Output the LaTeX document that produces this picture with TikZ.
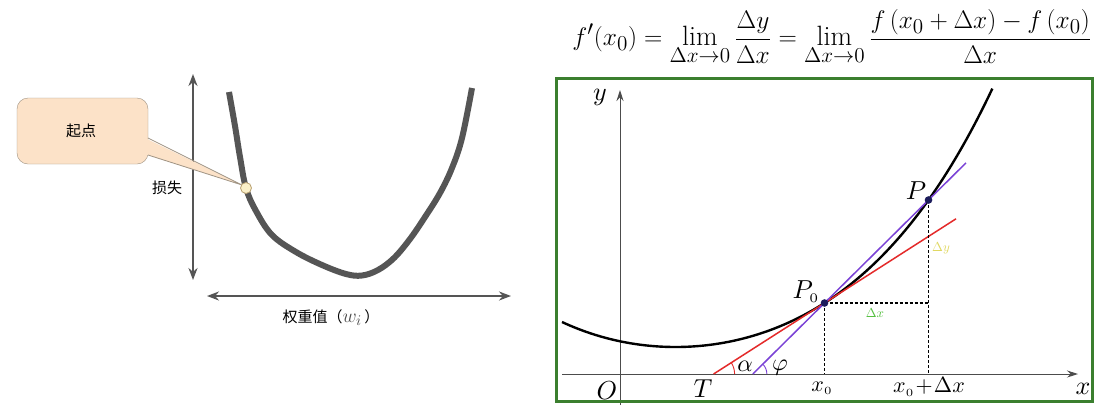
\documentclass[tikz,border=0pt]{standalone}
\usepackage{graphicx}
\usepackage{fontspec}
\newfontfamily\cjk{Noto Sans CJK SC}
\usetikzlibrary{arrows.meta,calc}
\definecolor{lossgray}{HTML}{555555}
\definecolor{peach}{HTML}{FCE2C8}
\definecolor{peachline}{HTML}{A09484}
\definecolor{dotfill}{HTML}{FBF0C8}
\definecolor{dotline}{HTML}{B8A070}
\definecolor{framegreen}{HTML}{3B7F2F}
\definecolor{tanred}{HTML}{E42A2A}
\definecolor{secpurple}{HTML}{7A42D6}
\definecolor{pointnavy}{HTML}{1C1C5C}
\definecolor{dxgreen}{HTML}{55C040}
\definecolor{dyyellow}{HTML}{E0D860}
\tikzset{
  dblarrow/.style={lossgray, line width=2pt, {Stealth[length=12pt,width=9pt]}-{Stealth[length=12pt,width=9pt]}},
  cjklabel/.style={font=\cjk\fontsize{15}{17}\selectfont, text=black, inner sep=0pt},
  axisline/.style={draw=black!70, line width=1pt, -{Stealth[length=11pt,width=7pt]}},
  graphlabel/.style={inner sep=0pt, scale=2.6},
  greeklabel/.style={inner sep=0pt, scale=2.4},
  ticklabel/.style={inner sep=0pt, scale=2.2},
  smalldelta/.style={inner sep=0pt, scale=1.3},
  guide/.style={black, line width=1.3pt, dash pattern=on 3pt off 2pt},
  ptdot/.style={fill=pointnavy, draw=none}
}
\begin{document}
\begin{tikzpicture}[x=1pt,y=-1pt]
\useasboundingbox (0,0) rectangle (1094,405);
\fill[white] (0,0) rectangle (1094,405);

% ---------- left panel ----------
\draw[dblarrow] (193,74) -- (193,280);
\draw[dblarrow] (207,296) -- (511,296);
\draw[lossgray, line width=6pt] plot[smooth, tension=0.6] coordinates {
  (229,92) (235,126) (240,157) (246,188) (256,211) (272,235) (296,252) (322,265) (346,274) (362,275.5) (378,270) (394,258) (410,239) (425,217) (440,193) (452,168) (462,138) (472,88)};

\node[draw=peachline, fill=peach, rounded corners=11pt, minimum width=131pt, minimum height=66pt, inner sep=0pt] (callout) at (82.5,131) {};
\fill[peach] (146,138.5) -- (242,185) -- (146,154.5) -- cycle;
\draw[peachline, line width=0.8pt] (148,138) -- (242,185) -- (148,155);
\node[cjklabel] (start) at (81,131) {起点};
\filldraw[fill=dotfill, draw=dotline, line width=0.8pt] (246,188) circle (5.5pt);
\node[cjklabel] (loss) at (167,188) {损失};
\node[cjklabel] (weight) at (331,318) {权重值（\textcolor{black!70}{\scalebox{1.35}{$w_i$}}\,）};

% ---------- formula ----------
\node[inner sep=0pt, scale=1.47] (formula) at (832,37) {\fontsize{19}{23}\selectfont$\displaystyle f'(x_0)=\lim_{\Delta x\to 0}\frac{\Delta y}{\Delta x}=\lim_{\Delta x\to 0}\frac{f\,(x_0+\Delta x)-f\,(x_0)}{\Delta x}$};

% ---------- right panel ----------
\coordinate (O) at (620,374);
\coordinate (xend) at (1078,374);
\coordinate (xstart) at (562,374);
\coordinate (ystart) at (620,405);
\coordinate (yend) at (620,90);
\draw[axisline] (xstart) -- (xend);
\draw[axisline] (ystart) -- (yend);

\coordinate (P0) at (824.5,303);
\coordinate (P) at (928.5,200);
\coordinate (T) at (713.6,374);
\coordinate (S) at ($(P0)!-0.689!(P)$);

% curve: drop = 18.263 v^2 - 0.1218 v^3 + 0.783 v^4, v=(x-675.5)/100
\draw[black, line width=2.4pt] plot[domain=-1.135:3.17, samples=120, smooth]
  ({675.5+100*\x}, {347-(18.263*\x*\x - 0.1218*\x*\x*\x + 0.783*\x*\x*\x*\x)});

\draw[tanred, line width=1.5pt] (T) -- ($(T)!2.186!(P0)$);
\draw[secpurple, line width=1.5pt] (S) -- ($(P0)!1.36!(P)$);

\draw[guide] (P0) -- (P0 |- O);
\draw[guide] (P) -- (P |- O);
\draw[guide] (P0) -- (P |- P0);

\draw[tanred, line width=0.9pt] ($(T)+(21,0)$) arc[start angle=0, end angle=-32.6, radius=21];
\draw[secpurple, line width=0.9pt] ($(S)+(14,0)$) arc[start angle=0, end angle=-44.7, radius=14];

\fill[ptdot] (P0) circle (3.8pt);
\fill[ptdot] (P) circle (3.8pt);

\node[graphlabel] (ylab) at (600,97) {$y$};
\node[graphlabel] (xlab) at (1083,389) {$x$};
\node[graphlabel] (Olab) at (607,391) {$O$};
\node[graphlabel] (Tlab) at (703,389) {$T$};
\node[graphlabel] (P0lab) at (806,292) {$P_{\scriptscriptstyle 0}$};
\node[graphlabel] (Plab) at (916,191) {$P$};
\node[greeklabel] (alab) at (745,366) {$\alpha$};
\node[greeklabel] (plab) at (780,368) {$\varphi$};
\node[ticklabel] (x0lab) at (822,388) {$x_{\scriptscriptstyle 0}$};
\node[ticklabel] (x1lab) at (929,387) {$x_{\scriptscriptstyle 0}\!+\!\Delta x$};
\node[smalldelta, text=dxgreen] (dxlab) at (875,313) {$\Delta x$};
\node[smalldelta, text=dyyellow] (dylab) at (941,248) {$\Delta y$};

\draw[framegreen, line width=3pt] (556,78) rectangle (1092,401);
\end{tikzpicture}
\end{document}
